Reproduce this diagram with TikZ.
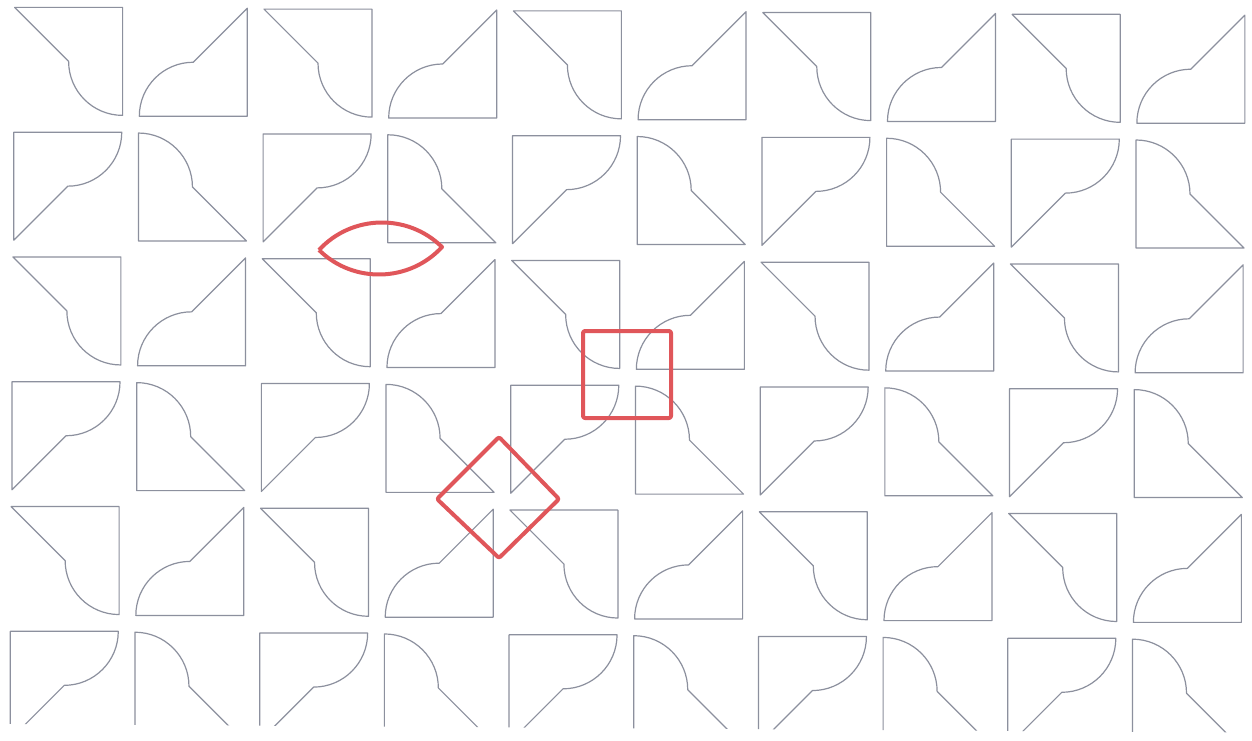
\documentclass[tikz,border=0pt]{standalone}
\usetikzlibrary{calc}
\definecolor{TileGray}{RGB}{140,144,158}
\definecolor{MarkRed}{RGB}{224,86,90}

\tikzset{
  tileline/.style={draw=TileGray, line width=1.2pt, line join=round},
  markline/.style={draw=MarkRed, line width=4pt, line join=round},
  pics/quarter/.style={code={
    \draw[tileline] (-54,-54) -- (54,-54) -- (54,54) arc[start angle=90, end angle=180, radius=54] -- cycle;
  }}
}

\begin{document}
\begin{tikzpicture}[x=1pt,y=-1pt]
  \fill[white] (0,0) rectangle (1252,740);
  \useasboundingbox (0,0) rectangle (1252,740);

  % tiled sheet, slightly skewed on the scan
  \begin{scope}[shift={(15,7)}, rotate=-0.4]
    \clip (-20,-20) rectangle (1280,717);
    \foreach \row in {0,...,5}{
      \foreach \col in {0,...,9}{
        \pgfmathsetmacro{\turn}{isodd(\row) ? (isodd(\col) ? 180 : 90) : (isodd(\col) ? -90 : 0)}
        \pic[rotate=\turn] at ({\col*124.7+54},{\row*124.8+54}) {quarter};
      }
    }
  \end{scope}

  % red marks
  \coordinate (lensL) at (319,250);
  \coordinate (lensR) at (442,247);
  \draw[markline] (lensL) to[bend left=46] (lensR) to[bend left=46] (lensL);
  \draw[markline, rounded corners=2pt] (583,331) rectangle (671,418);
  \draw[markline, rounded corners=2pt] (499,437) -- (559,499) -- (499,558) -- (437,499) -- cycle;
\end{tikzpicture}
\end{document}
